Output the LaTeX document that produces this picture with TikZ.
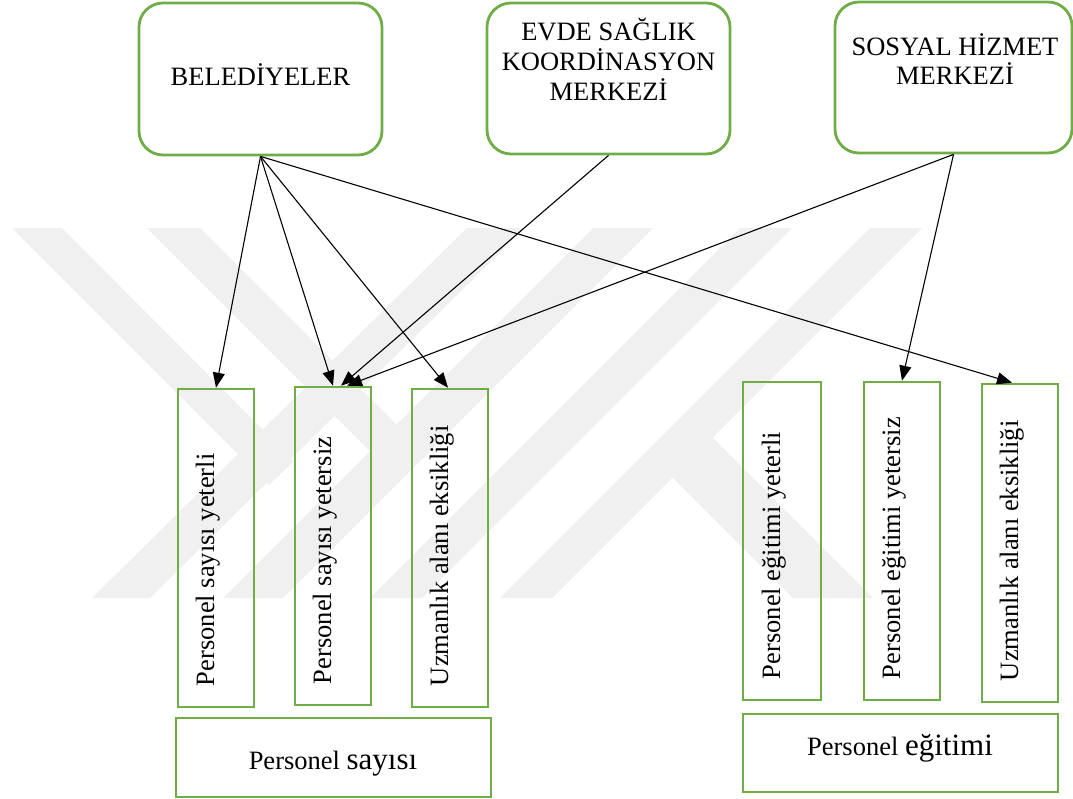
\documentclass[tikz,border=0pt]{standalone}
\usepackage{fontspec}
\setmainfont{Liberation Serif}
\usetikzlibrary{arrows.meta,calc}

\definecolor{boxgreen}{HTML}{70AD47}
\definecolor{emblem}{gray}{0.94}

\begin{document}
\begin{tikzpicture}[x=1pt,y=-1pt,
  topbox/.style={draw=boxgreen, line width=2.8pt, rounded corners=24pt, inner sep=0pt},
  itembox/.style={draw=boxgreen, line width=2.6pt, inner sep=0pt},
  txt/.style={font=\fontsize{26.5}{30}\selectfont, inner sep=0pt, anchor=base},
  vtxt/.style={txt, rotate=90, anchor=base west},
  link/.style={line width=1.1pt, -{Triangle[length=15pt,width=12pt]}}
]
\useasboundingbox (0,0) rectangle (1073,798);

% faint emblem in the background
\fill[emblem] (12,228) -- (62,228) -- (294,461) -- (269,485) -- cycle;
\fill[emblem] (147,228) -- (200,228) -- (426,454) -- (400,481) -- cycle;
\fill[emblem] (467,228) -- (525,228) -- (150,598) -- (92,598) -- cycle;
\fill[emblem] (593,228) -- (653,228) -- (283,598) -- (223,598) -- cycle;
\fill[emblem] (740,228) -- (792,228) -- (422,598) -- (370,598) -- cycle;
\fill[emblem] (870,228) -- (922,228) -- (552,598) -- (500,598) -- cycle;
\fill[emblem] (670,475) -- (712,437) -- (873,598) -- (793,598) -- cycle;

% institutions
\node[topbox, minimum width=243pt, minimum height=152pt] (bel) at (260.5,79) {};
\node[topbox, minimum width=243pt, minimum height=151pt] (esk) at (608.5,78.5) {};
\node[topbox, minimum width=237pt, minimum height=151pt] (shm) at (953.5,77.5) {};

\node[txt] (belT) at (260.5,85) {BELEDİYELER};
\node[txt] (esk1) at (608.5,40) {EVDE SAĞLIK};
\node[txt] (esk2) at (608.5,70) {KOORDİNASYON};
\node[txt] (esk3) at (608.5,100) {MERKEZİ};
\node[txt] (shm1) at (955,55) {SOSYAL HİZMET};
\node[txt] (shm2) at (955,84) {MERKEZİ};

% findings
\node[itembox, minimum width=76pt, minimum height=318pt] (L1) at (216,548) {};
\node[itembox, minimum width=76pt, minimum height=318pt] (L2) at (333,546) {};
\node[itembox, minimum width=76pt, minimum height=318pt] (L3) at (450,548) {};
\node[itembox, minimum width=78pt, minimum height=318pt] (R1) at (782,541) {};
\node[itembox, minimum width=76pt, minimum height=318pt] (R2) at (902,541) {};
\node[itembox, minimum width=76pt, minimum height=318pt] (R3) at (1020,543) {};

\node[vtxt] (L1t) at ($(L1.south)+(-2,-22)$) {Personel sayısı yeterli};
\node[vtxt] (L2t) at ($(L2.south)+(-2,-22)$) {Personel sayısı yetersiz};
\node[vtxt] (L3t) at ($(L3.south)+(-2,-22)$) {Uzmanlık alanı eksikliği};
\node[vtxt] (R1t) at ($(R1.south)+(-2,-22)$) {Personel eğitimi yeterli};
\node[vtxt] (R2t) at ($(R2.south)+(-2,-22)$) {Personel eğitimi yetersiz};
\node[vtxt] (R3t) at ($(R3.south)+(-2,-22)$) {Uzmanlık alanı eksikliği};

% themes
\node[itembox, minimum width=315pt, minimum height=79pt] (S1) at (333.5,757.5) {};
\node[itembox, minimum width=315pt, minimum height=78pt] (S2) at (900.5,753) {};
\node[txt] (S1t) at (333,769) {Personel {\fontsize{31}{34}\selectfont sayısı}};
\node[txt] (S2t) at (900,755) {Personel {\fontsize{31}{34}\selectfont eğitimi}};

% links
\draw[link] (bel.south) -- (L1.north);
\draw[link] (bel.south) -- (L2.north);
\draw[link] (bel.south) -- ([xshift=-2pt]L3.north);
\draw[link] (bel.south) -- ([xshift=-8pt]R3.north);
\draw[link] (esk.south) -- ([xshift=8pt]L2.north);
\draw[link] (shm.south) -- ([xshift=14pt]L2.north);
\draw[link] (shm.south) -- (R2.north);
\end{tikzpicture}
\end{document}
